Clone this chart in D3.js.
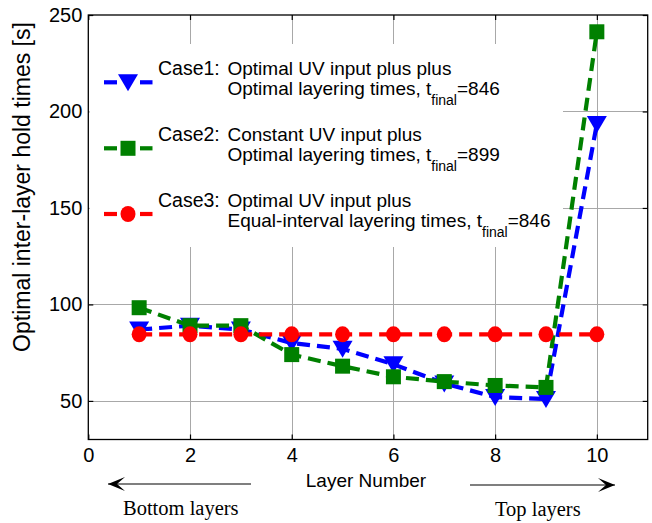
<!DOCTYPE html>
<html><head><meta charset="utf-8">
<script src="https://cdn.jsdelivr.net/npm/d3@7"></script>
<style>body{margin:0;background:#fff}svg{display:block}</style>
</head><body><svg id="c" width="652" height="523"></svg>
<script>
const layers = [1,2,3,4,5,6,7,8,9,10];
const case1 = [87, 89, 87, 80, 77, 69, 59, 52, 51, 193.5];
const case2 = [98.3, 89, 89, 74, 68, 62.5, 60, 58, 57, 241.3];
const case3 = [84.5, 84.5, 84.5, 84.5, 84.5, 84.5, 84.5, 84.5, 84.5, 84.5];
const xTicks = [0,2,4,6,8,10];
const yTicks = [50,100,150,200,250];
const seriesNames = ["Case1","Case2","Case3"];
const legendLine1 = ["Optimal UV input plus plus","Constant UV input plus","Optimal UV input plus"];
const legendLine2 = ["Optimal layering times, t","Optimal layering times, t","Equal-interval layering times, t"];
const legendFinal = ["=846","=899","=846"];

const svg = d3.select("#c");
const L=88.3, R=647.7, T=15, B=439.5;
const x = d3.scaleLinear().domain([0,11]).range([L,R]);
const y = d3.scaleLinear().domain([30,250]).range([B,T]);
const font = "'Liberation Sans', Arial, sans-serif";

svg.append("rect").attr("width",652).attr("height",523).attr("fill","#fff");

// grid
const grid = svg.append("g").attr("stroke","#a8a8a8").attr("stroke-width",1);
grid.selectAll("line.v").data(xTicks.filter(d=>d>0)).join("line")
  .attr("x1",d=>Math.round(x(d))+0.5).attr("x2",d=>Math.round(x(d))+0.5).attr("y1",T).attr("y2",B);
grid.selectAll("line.h").data(yTicks.filter(d=>d<250)).join("line")
  .attr("y1",d=>Math.round(y(d))+0.5).attr("y2",d=>Math.round(y(d))+0.5).attr("x1",L).attr("x2",R);

// axes
function styleAxis(g){ g.select(".domain").remove(); g.selectAll(".tick line").attr("stroke","#000").attr("stroke-width",1.2);
  g.selectAll("text").attr("font-family",font).attr("font-size",20).attr("fill","#000"); }
svg.append("g").attr("transform",`translate(0,${B})`).call(d3.axisBottom(x).tickValues(xTicks).tickSize(-5).tickPadding(8)).call(styleAxis);
svg.append("g").attr("transform",`translate(${L},0)`).call(d3.axisLeft(y).tickValues(yTicks).tickSize(-5).tickPadding(6)).call(styleAxis);
svg.append("g").attr("transform",`translate(0,${T})`).call(d3.axisTop(x).tickValues(xTicks).tickSize(-5).tickFormat("")).call(styleAxis);
svg.append("g").attr("transform",`translate(${R},0)`).call(d3.axisRight(y).tickValues(yTicks).tickSize(-5).tickFormat("")).call(styleAxis);

// legend background
svg.append("rect").attr("x",L+1).attr("y",44).attr("width",563-L-1).attr("height",203).attr("fill","#fff");

// series
const series = [
  {vals:case1, color:"#0000ff", marker:"tri"},
  {vals:case2, color:"#008000", marker:"sq"},
  {vals:case3, color:"#ff0000", marker:"circ"}
];
function drawMarker(g, type, color, cx, cy){
  if(type==="tri"){
    g.append("path").attr("d",`M${cx-10},${cy-8}L${cx+10},${cy-8}L${cx},${cy+9}Z`).attr("fill",color);
  } else if(type==="sq"){
    g.append("rect").attr("x",cx-7.5).attr("y",cy-7.5).attr("width",15).attr("height",15).attr("fill",color);
  } else {
    g.append("ellipse").attr("cx",cx).attr("cy",cy).attr("rx",7.5).attr("ry",8).attr("fill",color);
  }
}
const line = d3.line().x((d,i)=>x(layers[i])).y(d=>y(d));
series.forEach(s=>{
  svg.append("path").datum(s.vals).attr("d",line).attr("fill","none").attr("stroke",s.color)
    .attr("stroke-width",4.2).attr("stroke-dasharray","13,7");
  const g = svg.append("g");
  s.vals.forEach((v,i)=>drawMarker(g,s.marker,s.color,x(layers[i]),y(v)));
});

// frame
svg.append("rect").attr("x",L).attr("y",T).attr("width",R-L).attr("height",B-T).attr("fill","none").attr("stroke","#000").attr("stroke-width",1.3);

// legend
const legY = [82.3, 148.3, 214];
series.forEach((s,i)=>{
  const ly = legY[i];
  svg.append("line").attr("x1",104).attr("x2",117).attr("y1",ly).attr("y2",ly).attr("stroke",s.color).attr("stroke-width",4.2);
  svg.append("line").attr("x1",140).attr("x2",152.5).attr("y1",ly).attr("y2",ly).attr("stroke",s.color).attr("stroke-width",4.2);
  drawMarker(svg,s.marker,s.color,128,ly);
  svg.append("text").attr("x",158).attr("y",ly-7.5).attr("font-family",font).attr("font-size",19.5).text(seriesNames[i]+":");
  svg.append("text").attr("x",227.5).attr("y",ly-7.5).attr("font-family",font).attr("font-size",19).text(legendLine1[i]);
  const t2 = svg.append("text").attr("x",227.5).attr("y",ly+12.7).attr("font-family",font).attr("font-size",19);
  t2.append("tspan").text(legendLine2[i]);
  t2.append("tspan").attr("dy",10).attr("font-size",14).text("final");
  t2.append("tspan").attr("dy",-10).text(legendFinal[i]);
});

// axis labels
svg.append("text").attr("x",366).attr("y",487).attr("text-anchor","middle").attr("font-family",font).attr("font-size",19).text("Layer Number");
svg.append("text").attr("transform","translate(30,187) rotate(-90)").attr("text-anchor","middle").attr("font-family",font).attr("font-size",23).text("Optimal inter-layer hold times [s]");

// arrows
function arrow(x1,x2,yy){
  svg.append("line").attr("x1",x1).attr("x2",x2).attr("y1",yy).attr("y2",yy).attr("stroke","#555").attr("stroke-width",1.6);
  const dir = Math.sign(x2-x1);
  svg.append("path").attr("d",`M${x2},${yy}L${x2-dir*17},${yy-7}L${x2-dir*9},${yy}L${x2-dir*17},${yy+7}Z`).attr("fill","#000");
}
arrow(251,108,484);
arrow(470,615,485);
const serif = "'Liberation Serif','Times New Roman',serif";
svg.append("text").attr("x",123).attr("y",515).attr("font-family",serif).attr("font-size",20.5).text("Bottom layers");
svg.append("text").attr("x",495).attr("y",516).attr("font-family",serif).attr("font-size",20.5).text("Top layers");
</script></body></html>
